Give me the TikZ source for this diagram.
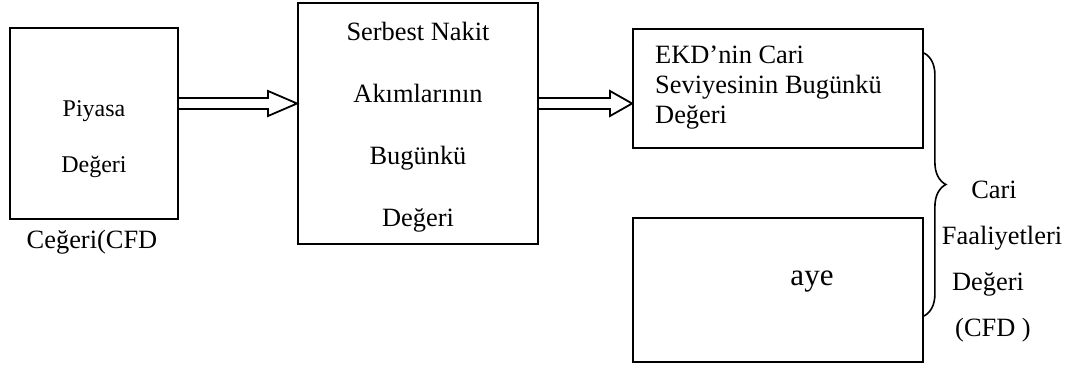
\documentclass[tikz,border=0pt]{standalone}
\usepackage{fontspec}
\setmainfont{Liberation Serif}
\usetikzlibrary{calc,decorations.pathreplacing}
\begin{document}
\begin{tikzpicture}[x=1pt,y=-1pt,
  box/.style={draw, line width=1.8pt, inner sep=0pt},
  blockarrow/.style={draw, line width=1.8pt, line join=miter},
  txt/.style={inner sep=0pt, font=\fontsize{26.4}{30}\selectfont},
  bracestyle/.style={draw, line width=1.6pt, decorate, decoration={brace, amplitude=22pt}}]
\useasboundingbox (0,0) rectangle (1074,367);
% boxes
\node[box, minimum width=168pt, minimum height=191pt] (b1) at (94,123.5) {};
\node[box, minimum width=240pt, minimum height=241pt] (b2) at (418,123.5) {};
\node[box, minimum width=290pt, minimum height=119pt] (b3) at (778,88.5) {};
\node[box, minimum width=290pt, minimum height=144pt] (b4) at (778,290) {};
% texts
\node[txt, align=center, font=\fontsize{24}{56}\selectfont] (t1) at (94,139) {Piyasa\\Değeri};
\node[txt] (t1b) at (92,242) {Ceğeri(CFD};
\node[txt, align=center, font=\fontsize{26.4}{62}\selectfont] (t2) at (418,127) {Serbest Nakit\\Akımlarının\\Bugünkü\\Değeri};
\node[txt, align=left, anchor=west] (t3) at (655,88) {EKD’nin Cari\\Seviyesinin Bugünkü\\Değeri};
\node[txt, font=\fontsize{31}{36}\selectfont] (t4) at (812,282) {aye};
% label to the right of the brace
\node[txt] (t5a) at (994,190) {Cari};
\node[txt] (t5b) at (1002,238) {Faaliyetleri};
\node[txt] (t5c) at (988,284) {Değeri};
\node[txt] (t5d) at (993,330) {(CFD )};
% block arrows
\coordinate (h1) at (268,0);
\coordinate (h2) at (610,0);
\draw[blockarrow] (b1.east |- 0,98) -- (h1 |- 0,98) -- (h1 |- 0,91) -- (b2.west |- 0,103.5)
  -- (h1 |- 0,116) -- (h1 |- 0,109) -- (b1.east |- 0,109);
\draw[blockarrow] (b2.east |- 0,98) -- (h2 |- 0,98) -- (h2 |- 0,91) -- (b3.west |- 0,103.5)
  -- (h2 |- 0,116) -- (h2 |- 0,109) -- (b2.east |- 0,109);
% brace
\draw[bracestyle] (b3.east |- 0,53) -- (b4.east |- 0,316);
\end{tikzpicture}
\end{document}
